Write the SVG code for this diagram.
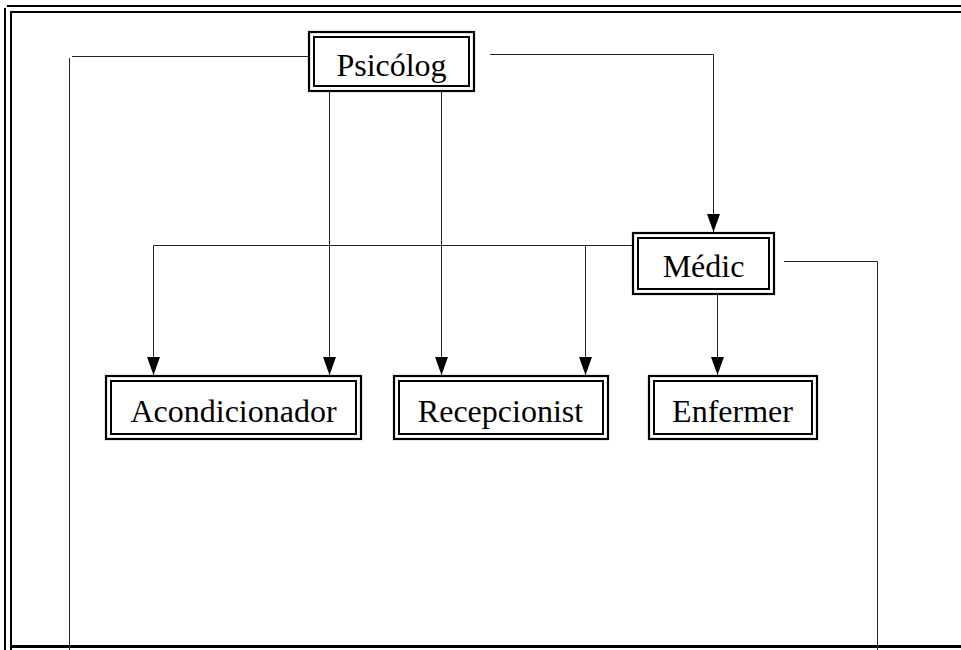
<svg xmlns="http://www.w3.org/2000/svg" width="961" height="650" viewBox="0 0 961 650">
<style>
.frame{fill:none;stroke:#000;stroke-width:2}
.bo{fill:#fff;stroke:#000;stroke-width:2.2}
.bi{fill:none;stroke:#000;stroke-width:2}
.c{fill:none;stroke:#222;stroke-width:1}
.t{font-family:"Liberation Serif","Times New Roman",serif;font-size:32px;fill:#000;text-anchor:middle}
</style>
<defs>
<marker id="ah" markerUnits="userSpaceOnUse" markerWidth="19" markerHeight="14" refX="18" refY="6.5" orient="auto">
<path d="M0,0 L18,6.5 L0,13 Z" fill="#000"/>
</marker>
</defs>
<rect width="961" height="650" fill="#fff"/>
<g id="frame">
<path class="frame" d="M7,6 H961 M5,8 V650 M11,12 H961 M11,11 V650"/>
<path fill="none" stroke="#000" stroke-width="3" d="M11,646.5 H961"/>
</g>
<g id="connectors">
<path class="c" d="M310,56.5 H72 M69.5,58 V650"/>
<path class="c" d="M490,54.5 H713.5 V232" marker-end="url(#ah)"/>
<path class="c" d="M329.5,92 V375" marker-end="url(#ah)"/>
<path class="c" d="M441.5,92 V375" marker-end="url(#ah)"/>
<path class="c" d="M632,245.5 H153.5 V375" marker-end="url(#ah)"/>
<path class="c" d="M585.5,245.5 V375" marker-end="url(#ah)"/>
<path class="c" d="M717.5,295 V375" marker-end="url(#ah)"/>
<path class="c" d="M784,261.5 H877.5 V650"/>
</g>
<g id="psicolog">
<rect class="bo" x="309" y="32" width="165" height="59"/>
<rect class="bi" x="314" y="37" width="155" height="49"/>
<text class="t" x="391.5" y="76">Psicólog</text>
</g>
<g id="medic">
<rect class="bo" x="633" y="233" width="141" height="61"/>
<rect class="bi" x="638" y="238" width="131" height="51"/>
<text class="t" x="703.5" y="277">Médic</text>
</g>
<g id="acondicionador">
<rect class="bo" x="106" y="376" width="255" height="63"/>
<rect class="bi" x="111" y="381" width="245" height="53"/>
<text class="t" x="233.5" y="422">Acondicionador</text>
</g>
<g id="recepcionist">
<rect class="bo" x="394" y="376" width="214" height="63"/>
<rect class="bi" x="399" y="381" width="204" height="53"/>
<text class="t" x="500.5" y="422">Recepcionist</text>
</g>
<g id="enfermer">
<rect class="bo" x="649" y="376" width="168" height="63"/>
<rect class="bi" x="654" y="381" width="158" height="53"/>
<text class="t" x="732.5" y="422">Enfermer</text>
</g>
</svg>
